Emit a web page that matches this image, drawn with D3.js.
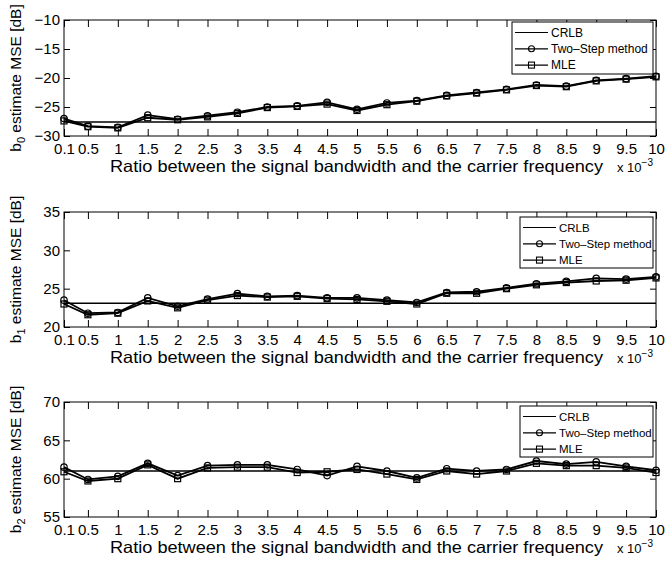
<!DOCTYPE html>
<html><head><meta charset="utf-8">
<script src="https://cdn.jsdelivr.net/npm/d3@7"></script>
<style>body{margin:0;background:#fff}svg{display:block}</style>
</head><body>
<svg id="c" width="666" height="565"></svg>
<script>
// ---- data ----
const ratios = [0.1,0.5,1,1.5,2,2.5,3,3.5,4,4.5,5,5.5,6,6.5,7,7.5,8,8.5,9,9.5,10];
const xTickLabels = ["0.1","0.5","1","1.5","2","2.5","3","3.5","4","4.5","5","5.5","6","6.5","7","7.5","8","8.5","9","9.5","10"];
const seriesNames = ["CRLB","Two\u2013Step method","MLE"];
const paramNames = ["0","1","2"];

const b0Ticks = [-30,-25,-20,-15,-10];
const b1Ticks = [20,25,30,35];
const b2Ticks = [55,60,65,70];

const crlbValues = [-27.6, 23.1, 61.0];

const b0TwoStep = [-27.0,-28.3,-28.5,-26.4,-27.1,-26.5,-25.9,-25.0,-24.8,-24.2,-25.4,-24.3,-23.9,-23.0,-22.5,-21.95,-21.2,-21.4,-20.4,-20.1,-19.7];
const b0MLE     = [-27.4,-28.4,-28.6,-26.85,-27.2,-26.7,-26.1,-25.1,-24.9,-24.5,-25.6,-24.6,-24.0,-23.1,-22.6,-22.05,-21.3,-21.5,-20.5,-20.2,-19.8];

const b1TwoStep = [23.5,21.8,21.9,23.8,22.7,23.65,24.35,24.0,24.1,23.8,23.8,23.5,23.2,24.5,24.6,25.1,25.65,25.95,26.35,26.25,26.55];
const b1MLE     = [23.0,21.6,21.8,23.4,22.5,23.5,24.1,23.9,24.0,23.7,23.6,23.35,23.0,24.4,24.4,25.0,25.5,25.8,26.0,26.1,26.4];

const b2TwoStep = [61.5,59.9,60.3,62.0,60.4,61.7,61.8,61.8,61.2,60.4,61.6,61.0,60.1,61.3,61.0,61.2,62.3,61.9,62.2,61.6,61.1];
const b2MLE     = [60.9,59.7,60.0,61.8,60.0,61.4,61.5,61.5,60.8,60.9,61.2,60.6,59.9,61.0,60.6,61.0,62.0,61.7,61.7,61.4,60.8];

// ---- drawing ----
const FONT = "'Liberation Sans', Arial, Helvetica, sans-serif";
const svg = d3.select("#c");
svg.append("rect").attr("width",666).attr("height",565).attr("fill","#fff");

const L = 64, R = 656;
const x = d3.scaleLinear().domain([ratios[0], ratios[ratios.length-1]]).range([L, R]);

const panels = [
  {top:20, bottom:136, ticks:b0Ticks, ts:b0TwoStep, mle:b0MLE, crlb:crlbValues[0], sub:paramNames[0], leg:{x:512,y:22,w:141,h:52,fs:12}},
  {top:212,bottom:327, ticks:b1Ticks, ts:b1TwoStep, mle:b1MLE, crlb:crlbValues[1], sub:paramNames[1], leg:{x:520,y:217,w:133,h:51,fs:11.5}},
  {top:402,bottom:517, ticks:b2Ticks, ts:b2TwoStep, mle:b2MLE, crlb:crlbValues[2], sub:paramNames[2], leg:{x:520,y:406,w:133,h:51,fs:11.5}}
];

panels.forEach(p => {
  const g = svg.append("g");
  const y = d3.scaleLinear().domain([p.ticks[0], p.ticks[p.ticks.length-1]]).range([p.bottom, p.top]);

  // box
  g.append("rect").attr("x",L).attr("y",p.top).attr("width",R-L).attr("height",p.bottom-p.top)
    .attr("fill","none").attr("stroke","#000").attr("stroke-width",1);

  // x ticks (inward, bottom & top)
  const xAxB = d3.axisBottom(x).tickValues(ratios).tickFormat((d,i)=>xTickLabels[i]).tickSizeInner(-7).tickSizeOuter(0).tickPadding(7);
  const gxb = g.append("g").attr("transform",`translate(0,${p.bottom})`).call(xAxB);
  gxb.select(".domain").remove();
  gxb.selectAll("text").attr("font-family",FONT).attr("font-size",15).attr("fill","#000");
  gxb.selectAll("line").attr("stroke","#000");
  const xAxT = d3.axisTop(x).tickValues(ratios).tickFormat("").tickSizeInner(-7).tickSizeOuter(0);
  const gxt = g.append("g").attr("transform",`translate(0,${p.top})`).call(xAxT);
  gxt.select(".domain").remove();
  gxt.selectAll("line").attr("stroke","#000");

  // y ticks (inward, left & right)
  const yAxL = d3.axisLeft(y).tickValues(p.ticks).tickFormat(d=>d3.format("")(d).replace("-","\u2212")).tickSizeInner(-6).tickSizeOuter(0).tickPadding(4);
  const gyl = g.append("g").attr("transform",`translate(${L},0)`).call(yAxL);
  gyl.select(".domain").remove();
  gyl.selectAll("text").attr("font-family",FONT).attr("font-size",15).attr("fill","#000");
  gyl.selectAll("line").attr("stroke","#000");
  const yAxR = d3.axisRight(y).tickValues(p.ticks).tickFormat("").tickSizeInner(-6).tickSizeOuter(0);
  const gyr = g.append("g").attr("transform",`translate(${R},0)`).call(yAxR);
  gyr.select(".domain").remove();
  gyr.selectAll("line").attr("stroke","#000");

  // CRLB line
  g.append("line").attr("x1",x(ratios[0])).attr("x2",x(ratios[ratios.length-1]))
    .attr("y1",y(p.crlb)).attr("y2",y(p.crlb)).attr("stroke","#000").attr("stroke-width",1.5);

  const line = d3.line().x((d,i)=>x(ratios[i])).y(d=>y(d));
  // MLE line + squares
  g.append("path").attr("d",line(p.mle)).attr("fill","none").attr("stroke","#000").attr("stroke-width",1.8);
  g.selectAll(null).data(p.mle).enter().append("rect")
    .attr("x",(d,i)=>x(ratios[i])-3).attr("y",d=>y(d)-3).attr("width",6).attr("height",6)
    .attr("fill","none").attr("stroke","#000").attr("stroke-width",1.2);
  // Two-Step line + circles
  g.append("path").attr("d",line(p.ts)).attr("fill","none").attr("stroke","#000").attr("stroke-width",1.8);
  g.selectAll(null).data(p.ts).enter().append("circle")
    .attr("cx",(d,i)=>x(ratios[i])).attr("cy",d=>y(d)).attr("r",3.2)
    .attr("fill","none").attr("stroke","#000").attr("stroke-width",1.2);

  // y label
  const cy = (p.top+p.bottom)/2;
  const yl = svg.append("text").attr("transform",`translate(21,${cy}) rotate(-90)`)
    .attr("text-anchor","middle").attr("font-family",FONT).attr("font-size",15.5).attr("fill","#000");
  yl.append("tspan").text("b");
  yl.append("tspan").attr("font-size",11).attr("dy",4).text(p.sub);
  yl.append("tspan").attr("dy",-4).text(" estimate MSE [dB]");

  // x label
  svg.append("text").attr("x",110).attr("y",p.bottom+36).attr("font-family",FONT).attr("font-size",16.5)
    .attr("textLength",493).attr("lengthAdjust","spacingAndGlyphs").attr("fill","#000")
    .text("Ratio between the signal bandwidth and the carrier frequency");
  const xm = svg.append("text").attr("x",617).attr("y",p.bottom+36).attr("font-family",FONT).attr("font-size",13).attr("fill","#000");
  xm.append("tspan").text("x 10");
  xm.append("tspan").attr("font-size",10).attr("dy",-6).text("\u22123");

  // legend
  const lg = svg.append("g").attr("transform",`translate(${p.leg.x},${p.leg.y})`);
  lg.append("rect").attr("width",p.leg.w).attr("height",p.leg.h).attr("fill","#fff").attr("stroke","#000").attr("stroke-width",1);
  seriesNames.forEach((name,i) => {
    const ry = 10.5 + 16.3*i;
    lg.append("line").attr("x1",3).attr("x2",36).attr("y1",ry).attr("y2",ry).attr("stroke","#000").attr("stroke-width",1.2);
    if (i===1) lg.append("circle").attr("cx",19.5).attr("cy",ry).attr("r",3).attr("fill","none").attr("stroke","#000").attr("stroke-width",1.1);
    if (i===2) lg.append("rect").attr("x",16.5).attr("y",ry-3).attr("width",6).attr("height",6).attr("fill","none").attr("stroke","#000").attr("stroke-width",1.1);
    lg.append("text").attr("x",39).attr("y",ry).attr("dy","0.35em").attr("font-family",FONT).attr("font-size",p.leg.fs).attr("fill","#000").text(name);
  });
});
</script>
</body></html>
